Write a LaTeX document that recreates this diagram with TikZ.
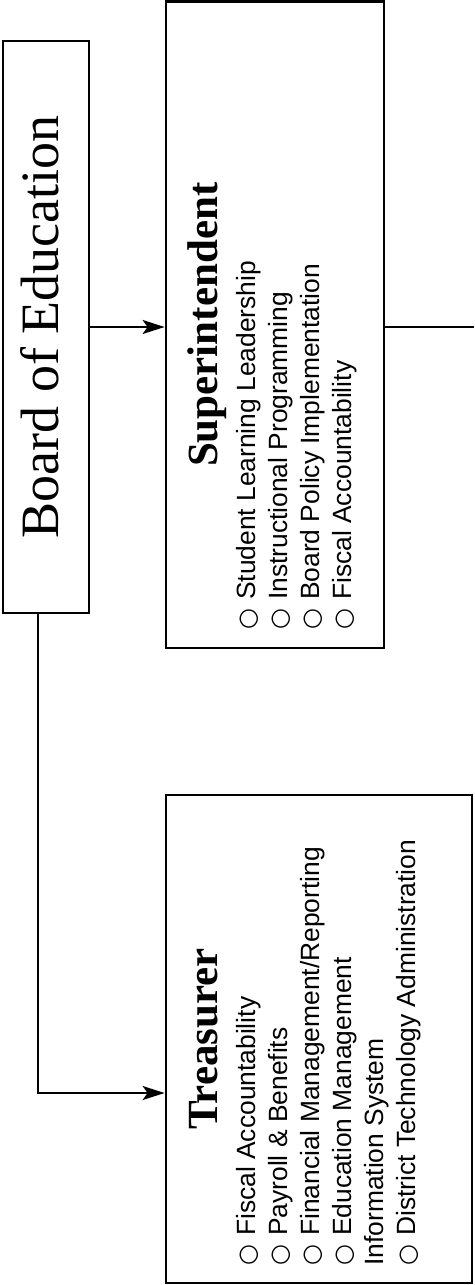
\documentclass[tikz,border=0pt]{standalone}
\usepackage{fontspec}
\setmainfont{Liberation Serif}
\setsansfont{Liberation Sans}
\newfontfamily\dotfont{DejaVu Sans}
\newcommand{\pip}{{\dotfont\fontsize{24}{32}\selectfont ○}\hspace{9pt}}
\usetikzlibrary{arrows.meta, calc, positioning}

\tikzset{
  box/.style={draw, line width=2.8pt, rectangle, inner sep=0pt},
  title/.style={rotate=90, anchor=base, font=\fontsize{43}{48}\selectfont\bfseries},
  duty/.style={rotate=90, anchor=base west, inner sep=0pt, font=\sffamily\fontsize{26.4}{32}\selectfont},
  link/.style={line width=1.9pt},
  feed/.style={line width=1.9pt, -{Stealth[length=22pt, width=14pt, inset=5pt]}}
}

\begin{document}
\begin{tikzpicture}[x=1pt, y=-1pt]
    \useasboundingbox (0, 0) rectangle (474, 1285);

    \node[box, minimum width=86pt, minimum height=572pt] (board) at (46, 327) {};
    \node[box, minimum width=218pt, minimum height=646.5pt] (super) at (275, 324.75) {};
    \node[box, minimum width=306pt, minimum height=488pt] (treas) at (319, 1039) {};

    \node[rotate=90, anchor=base, font=\fontsize{54}{60}\selectfont] (boardtxt) at (58, 327) {Board of Education};

    \node[title] (supertxt) at (217, 324.75) {Superintendent};
    \node[duty] (s1) at (255, 630) {\pip Student Learning Leadership};
    \node[duty] (s2) at (287, 630) {\pip Instructional Programming};
    \node[duty] (s3) at (319, 630) {\pip Board Policy Implementation};
    \node[duty] (s4) at (351, 630) {\pip Fiscal Accountability};

    \node[title] (treastxt) at (217, 1039) {Treasurer};
    \node[duty] (t1) at (255, 1266) {\pip Fiscal Accountability};
    \node[duty] (t2) at (287, 1266) {\pip Payroll \& Benefits};
    \node[duty] (t3) at (319, 1266) {\pip Financial Management/Reporting};
    \node[duty] (t4) at (351, 1266) {\pip Education Management};
    \node[duty] (t5) at (383, 1266) {Information System};
    \node[duty] (t6) at (415, 1266) {\pip District Technology Administration};

    % connectors
    \coordinate (elbow) at (38, 1093);
    \coordinate (onward) at (474, 327);
    \draw[feed] (board.east) -- (board.east -| super.west);
    \draw[link] (super.east |- board.east) -- (onward);
    \draw[feed] (elbow |- board.south) -- (elbow) -- (elbow -| treas.west);
\end{tikzpicture}
\end{document}
